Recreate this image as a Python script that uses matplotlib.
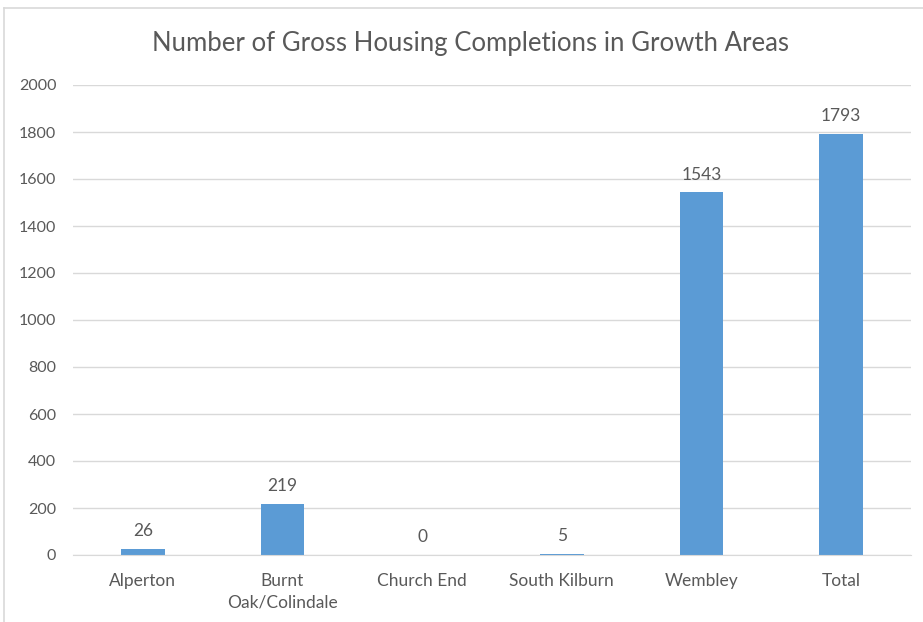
import matplotlib.pyplot as plt
from matplotlib.lines import Line2D

areas = ['Alperton', 'Burnt\nOak/Colindale', 'Church End', 'South Kilburn', 'Wembley', 'Total']
completions = [26, 219, 0, 5, 1543, 1793]
y_ticks = [0, 200, 400, 600, 800, 1000, 1200, 1400, 1600, 1800, 2000]

bar_color = '#5B9BD5'
text_color = '#595959'
grid_color = '#D9D9D9'

plt.rcParams['font.family'] = ['Lato', 'DejaVu Sans']

fig = plt.figure(figsize=(9.23, 6.22), dpi=100)
ax = fig.add_axes([73 / 923, 1 - 555 / 622, 838 / 923, 470 / 622])

x = range(len(areas))
bars = ax.bar(x, completions, width=0.315, color=bar_color, zorder=3)

for xi, v in zip(x, completions):
    ax.annotate(str(v), (xi, v), xytext=(0, 7), textcoords='offset points',
                ha='center', va='bottom', fontsize=12.5, color=text_color)

ax.set_xlim(-0.5, len(areas) - 0.5)
ax.set_ylim(0, 2000)
ax.set_yticks(y_ticks)
ax.set_xticks(list(x))
ax.set_xticklabels(areas, fontsize=12.5, color=text_color, linespacing=1.45)
ax.tick_params(axis='y', labelsize=11.5, labelcolor=text_color, length=0, pad=12)
ax.tick_params(axis='x', length=0, pad=13)

ax.grid(axis='y', color=grid_color, linewidth=1, zorder=0)
for side in ['top', 'right', 'left']:
    ax.spines[side].set_visible(False)
ax.spines['bottom'].set_color(grid_color)
ax.spines['bottom'].set_zorder(4)

fig.text(470 / 923, 1 - 44 / 622, 'Number of Gross Housing Completions in Growth Areas',
         ha='center', va='center', fontsize=18.5, color=text_color)

# outer chart frame (only top and left edges fall inside the image)
fig.add_artist(Line2D([4 / 923, 1], [1 - 8 / 622, 1 - 8 / 622], color='#D9D9D9', lw=1.2))
fig.add_artist(Line2D([4 / 923, 4 / 923], [0, 1 - 8 / 622], color='#D9D9D9', lw=1.2))

fig.savefig('out.png', dpi=100)
